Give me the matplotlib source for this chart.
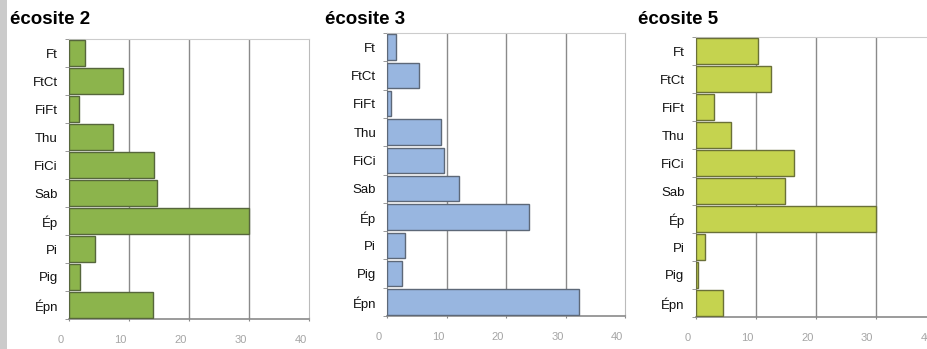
import matplotlib
matplotlib.use("Agg")
import matplotlib.pyplot as plt
import matplotlib.transforms as mtransforms
from matplotlib.patches import Rectangle

plt.rcParams['font.family'] = ['Liberation Sans', 'DejaVu Sans']

### data
categories = ["Ft", "FtCt", "FiFt", "Thu", "FiCi", "Sab", "Ép", "Pi", "Pig", "Épn"]
ecosite2 = [2.6, 9.0, 1.6, 7.3, 14.2, 14.6, 30.0, 4.3, 1.8, 14.0]
ecosite3 = [1.4, 5.4, 0.7, 9.1, 9.5, 12.1, 23.8, 3.0, 2.4, 32.2]
ecosite5 = [10.3, 12.5, 3.0, 5.9, 16.4, 14.8, 30.0, 1.55, 0.33, 4.5]
titles = ["écosite 2", "écosite 3", "écosite 5"]
xticks = [0, 10, 20, 30, 40]

W, H = 927, 349
fig = plt.figure(figsize=(W/100., H/100.), dpi=100)
fig.patch.set_facecolor('white')

# grey strip on the left edge
fig.patches.append(Rectangle((0, 0), 7.5/W, 1, transform=fig.transFigure,
                             facecolor='#cbcbcb', edgecolor='none'))

# (left, right, top, bottom) in pixels, title x
panels = [
    (69.0, 309.0, 39.0, 319.0, 10.0, ecosite2, '#8cb44c', '#56663c'),
    (387.3, 625.3, 33.0, 316.0, 325.0, ecosite3, '#98b6e0', '#5d6878'),
    (695.7, 935.7, 37.0, 317.0, 638.0, ecosite5, '#c5d34f', '#6a7038'),
]

ypos = list(range(len(categories)))
for (l, r, t, b, tx, vals, fc, ec), title in zip(panels, titles):
    ax = fig.add_axes([l/W, 1-b/H, (r-l)/W, (b-t)/H])
    ax.barh(ypos, vals, height=0.9, color=fc, edgecolor=ec, lw=1.0, zorder=3)
    ax.set_xlim(0, 40)
    ax.set_ylim(len(categories)-0.5, -0.5)

    ax.set_xticks(xticks)
    ax.set_xticklabels([str(v) for v in xticks])
    ax.set_yticks(ypos)
    ax.set_yticklabels(categories)
    ax.set_yticks([i+0.5 for i in range(-1, len(categories))], minor=True)

    ax.tick_params(axis='y', which='major', length=0, pad=8, labelsize=9.5,
                   labelcolor='#111111')
    ax.tick_params(axis='y', which='minor', length=3, color='#888888', direction='out')
    ax.tick_params(axis='x', length=3, color='#888888', direction='inout', pad=10,
                   labelsize=8, labelcolor='#a5a5a5')
    # x labels sit a little left of their ticks in the original
    off = mtransforms.ScaledTranslation(-8.5/100., 0, fig.dpi_scale_trans)
    for lab in ax.get_xticklabels():
        lab.set_transform(lab.get_transform() + off)

    for xv in [10, 20, 30]:
        ax.axvline(xv, color='#8a8a8a', lw=1.0, zorder=1)

    ax.spines['left'].set_color('#8a8a8a')
    ax.spines['bottom'].set_color('#8a8a8a')
    ax.spines['bottom'].set_linewidth(1.2)
    ax.spines['top'].set_color('#cccccc')
    ax.spines['right'].set_color('#bbbbbb')
    ax.set_axisbelow(True)

    fig.text(tx/W, 1-24/H, title, fontsize=13.5, fontweight='bold',
             va='baseline', ha='left', color='black')

fig.savefig("out.png", dpi=100)
